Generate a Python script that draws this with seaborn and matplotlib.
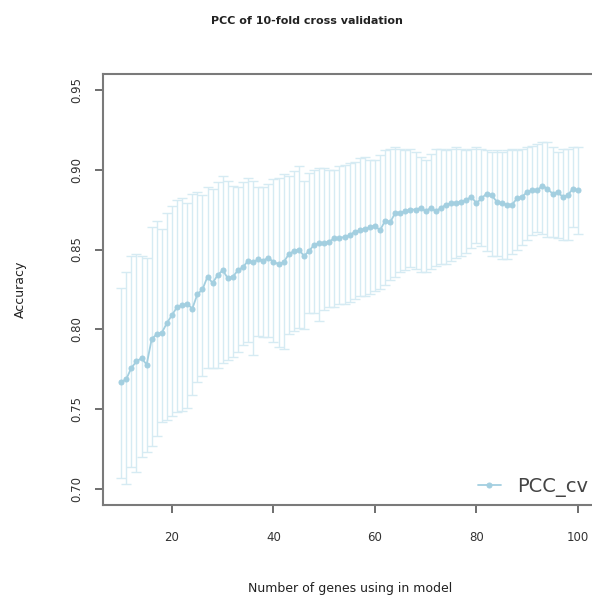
import numpy as np
import pandas as pd
import matplotlib
matplotlib.use("Agg")
import matplotlib.pyplot as plt
import seaborn as sns

# number of genes used in the model
n_genes = list(range(10, 101))

# mean PCC over the 10 folds
pcc_mean = [
    0.767, 0.769, 0.776, 0.780, 0.782, 0.778, 0.794, 0.797, 0.798, 0.804,
    0.809, 0.814, 0.815, 0.816, 0.813, 0.822, 0.825, 0.833, 0.829, 0.834,
    0.837, 0.832, 0.833, 0.837, 0.839, 0.843, 0.842, 0.844, 0.843, 0.845,
    0.842, 0.841, 0.842, 0.847, 0.849, 0.850, 0.846, 0.849, 0.853, 0.854,
    0.854, 0.855, 0.857, 0.857, 0.858, 0.859, 0.861, 0.862, 0.863, 0.864,
    0.865, 0.862, 0.868, 0.867, 0.873, 0.873, 0.874, 0.875, 0.875, 0.876,
    0.874, 0.876, 0.874, 0.876, 0.878, 0.879, 0.879, 0.880, 0.881, 0.883,
    0.879, 0.882, 0.885, 0.884, 0.880, 0.879, 0.878, 0.878, 0.882, 0.883,
    0.886, 0.887, 0.887, 0.890, 0.888, 0.885, 0.886, 0.883, 0.884, 0.888,
    0.887,
]

# upper end of the error bar
pcc_upper = [
    0.826, 0.836, 0.846, 0.847, 0.846, 0.845, 0.864, 0.868, 0.863, 0.873,
    0.877, 0.881, 0.882, 0.879, 0.885, 0.886, 0.884, 0.889, 0.888, 0.892,
    0.896, 0.893, 0.890, 0.889, 0.892, 0.895, 0.893, 0.889, 0.889, 0.891,
    0.894, 0.895, 0.897, 0.896, 0.899, 0.902, 0.893, 0.898, 0.900, 0.901,
    0.901, 0.900, 0.900, 0.902, 0.903, 0.904, 0.905, 0.907, 0.908, 0.906,
    0.906, 0.909, 0.912, 0.913, 0.914, 0.913, 0.912, 0.913, 0.911, 0.908,
    0.906, 0.910, 0.913, 0.913, 0.912, 0.913, 0.914, 0.913, 0.912, 0.913,
    0.914, 0.913, 0.912, 0.911, 0.912, 0.911, 0.912, 0.913, 0.912, 0.913,
    0.914, 0.915, 0.916, 0.917, 0.917, 0.914, 0.911, 0.913, 0.913, 0.914,
    0.914,
]

# lower end of the error bar
pcc_lower = [
    0.707, 0.703, 0.714, 0.711, 0.720, 0.723, 0.727, 0.733, 0.742, 0.743,
    0.746, 0.748, 0.749, 0.751, 0.759, 0.767, 0.771, 0.776, 0.776, 0.776,
    0.779, 0.781, 0.783, 0.786, 0.790, 0.792, 0.784, 0.796, 0.795, 0.795,
    0.792, 0.789, 0.788, 0.797, 0.799, 0.801, 0.800, 0.810, 0.810, 0.805,
    0.812, 0.814, 0.814, 0.816, 0.816, 0.817, 0.819, 0.821, 0.821, 0.822,
    0.824, 0.825, 0.828, 0.831, 0.833, 0.836, 0.837, 0.839, 0.838, 0.836,
    0.836, 0.838, 0.840, 0.841, 0.841, 0.843, 0.845, 0.846, 0.848, 0.851,
    0.854, 0.852, 0.849, 0.846, 0.846, 0.844, 0.844, 0.847, 0.850, 0.853,
    0.856, 0.859, 0.861, 0.860, 0.858, 0.858, 0.857, 0.856, 0.856, 0.864,
    0.860,
]

x_ticks = [20, 40, 60, 80, 100]
y_ticks = [0.70, 0.75, 0.80, 0.85, 0.90, 0.95]

df = pd.DataFrame({"genes": n_genes, "pcc": pcc_mean,
                   "upper": pcc_upper, "lower": pcc_lower})

sns.set_style("ticks")
plt.rcParams["font.family"] = ["DejaVu Sans"]

bar_col = "#d6ebf3"
pt_col = "#a3cfe0"

fig = plt.figure(figsize=(5.92, 5.95), dpi=100)
ax = fig.add_axes([0.174, 0.151, 0.833, 0.725])

# error bars first so the mean line sits on top
ax.errorbar(df["genes"], df["pcc"],
            yerr=[df["pcc"] - df["lower"], df["upper"] - df["pcc"]],
            fmt="none", ecolor=bar_col, elinewidth=1.0, capsize=3.5, capthick=1.0)

sns.lineplot(data=df, x="genes", y="pcc", ax=ax, color=pt_col, marker="o",
             markersize=3.6, markeredgecolor=pt_col, markerfacecolor=pt_col,
             linewidth=1.3, label="PCC_cv")

ax.set_xlim(6.4, 103.6)
ax.set_ylim(0.69, 0.96)
ax.set_xticks(x_ticks)
ax.set_yticks(y_ticks)
ax.set_xticklabels([str(t) for t in x_ticks])
ax.set_yticklabels([f"{t:.2f}" for t in y_ticks], rotation=90, va="center")

for sp in ax.spines.values():
    sp.set_visible(True)
    sp.set_color("#7a7a7a")
    sp.set_linewidth(1.5)
# the right edge of the box falls outside the picture in the original
ax.spines["right"].set_visible(False)
ax.tick_params(axis="both", direction="out", length=5.5, width=1.2,
               color="#555555", labelsize=8.5, labelcolor="#333333")
ax.tick_params(axis="x", pad=13)
ax.tick_params(axis="y", pad=9)

ax.set_xlabel("Number of genes using in model", fontsize=9, color="#222222")
ax.set_ylabel("Accuracy", fontsize=9, color="#222222")
ax.xaxis.set_label_coords(0.501, -0.193)
ax.xaxis.label.set_va("center")
ax.yaxis.set_label_coords(-0.168, 0.5)
ax.yaxis.label.set_va("center")

fig.text(0.519, 0.965, "PCC of 10-fold cross validation", ha="center",
         va="center", fontsize=8, fontweight="bold", color="#222222")

ax.legend(loc="center left", bbox_to_anchor=(0.76, 0.042), frameon=False,
          fontsize=14, handlelength=1.2, handletextpad=0.8, borderpad=0,
          borderaxespad=0, labelcolor="#444444")

fig.savefig("out.png", dpi=100, facecolor="white")
